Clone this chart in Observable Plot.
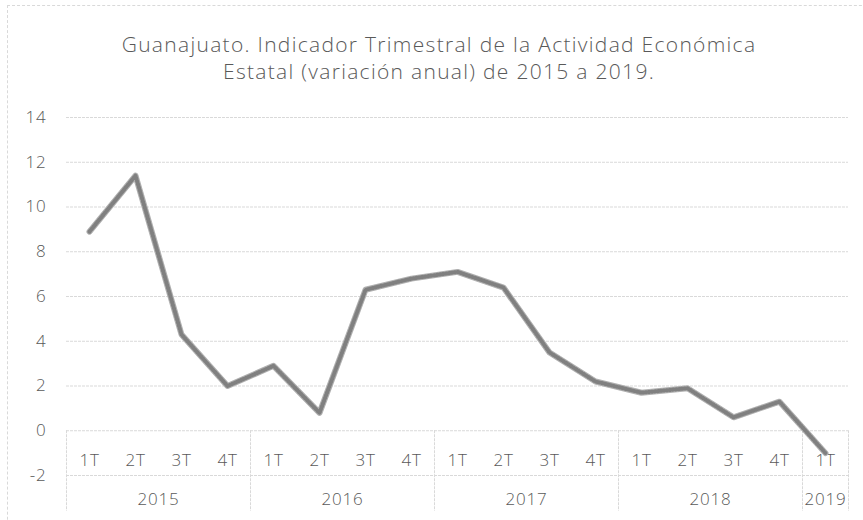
<!DOCTYPE html>
<html>
<head>
<meta charset="utf-8">
<script src="https://cdn.jsdelivr.net/npm/d3@7"></script>
<script src="https://cdn.jsdelivr.net/npm/@observablehq/plot@0.6"></script>
<style>
  html, body { margin: 0; padding: 0; background: #fff; overflow: hidden; }
  #wrap { position: relative; width: 863px; height: 520px; overflow: hidden; font-family: "Open Sans", Lato, sans-serif; }
  #frame { position: absolute; left: 7px; top: 5px; width: 900px; height: 600px; border: 1px dashed #d9d9d9; box-sizing: border-box; }
  #title { position: absolute; left: 0; top: 0; width: 878px; height: 100px; text-align: center; color: #595959;
           font-size: 21px; font-weight: 300; letter-spacing: 1.3px; line-height: 27px; padding-top: 31px; box-sizing: border-box; }
  #chart { position: absolute; left: 0; top: 100px; }
</style>
</head>
<body>
<div id="wrap">
  <div id="frame"></div>
  <div id="title">Guanajuato. Indicador Trimestral de la Actividad Económica<br>Estatal (variación anual) de 2015 a 2019.</div>
  <div id="chart"></div>
</div>
<script>
// ---- data ----
const quarters = ["1T","2T","3T","4T","1T","2T","3T","4T","1T","2T","3T","4T","1T","2T","3T","4T","1T"];
const values = [8.9, 11.4, 4.3, 2.0, 2.9, 0.8, 6.3, 6.8, 7.1, 6.4, 3.5, 2.2, 1.7, 1.9, 0.6, 1.3, -1.0];
const years = ["2015","2016","2017","2018","2019"];
const quartersPerYear = [4, 4, 4, 4, 1];
const yTicks = [-2, 0, 2, 4, 6, 8, 10, 12, 14];

// ---- derived tables ----
const points = values.map((v, i) => ({i, v, q: quarters[i]}));
let start = 0;
const yearRows = years.map((y, k) => {
  const row = {year: y, start, end: start + quartersPerYear[k] - 1};
  start += quartersPerYear[k];
  return row;
});
const boundaries = [-0.5, ...yearRows.map(r => r.end + 0.5)];

const font = "'Open Sans', Lato, sans-serif";
const txt = {fill: "#595959", fontSize: 17, fontWeight: 300};
const chart = Plot.plot({
  width: 863,
  height: 420,
  marginLeft: 66,
  marginRight: 15,
  marginTop: 17,
  marginBottom: 45,
  style: {fontFamily: font, background: "transparent", overflow: "visible", letterSpacing: "0.8px"},
  x: {type: "linear", domain: [-0.5, quarters.length - 0.5], axis: null},
  y: {domain: [-2, 14], axis: null},
  marks: [
    Plot.ruleY(yTicks, {y: d => d, stroke: "#d9d9d9", strokeWidth: 1, strokeDasharray: "3,1"}),
    Plot.ruleX(boundaries, {x: d => d, y1: 0, y2: -3.6, stroke: "#d9d9d9", strokeWidth: 1, strokeDasharray: "3,1"}),
    Plot.text(yTicks, {x: -0.5, y: d => d, text: d => String(d), dx: -20, textAnchor: "end", ...txt}),
    Plot.text(points, {x: "i", y: -1, text: "q", dy: 7, ...txt}),
    Plot.text(yearRows, {x: d => (d.start + d.end) / 2, y: -2, text: "year", dy: 24, ...txt}),
    Plot.line(points, {x: "i", y: "v", stroke: "#b0b0b0", strokeWidth: 6,
      strokeLinecap: "round", strokeLinejoin: "round"}),
    Plot.line(points, {x: "i", y: "v", stroke: "#808080", strokeWidth: 4,
      strokeDasharray: "1,2", strokeLinejoin: "round"})
  ]
});
document.getElementById("chart").appendChild(chart);
</script>
</body>
</html>
